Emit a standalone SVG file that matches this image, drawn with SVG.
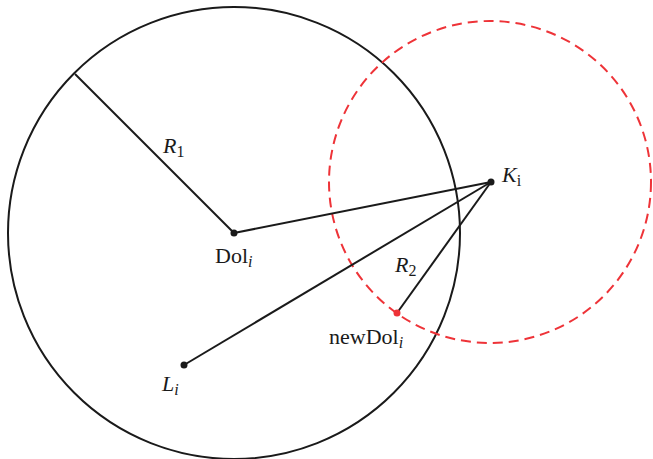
<svg xmlns="http://www.w3.org/2000/svg" width="653" height="459" viewBox="0 0 653 459">
<style>
.ln{stroke:#1a1a1a;stroke-width:2;fill:none}
.red{stroke:#ee3338;stroke-width:2;fill:none;stroke-dasharray:10 6}
text{font-family:"Liberation Serif","Times New Roman",serif;font-size:22px;fill:#1a1a1a}
.it{font-style:italic}
.sub{font-size:16px}
</style>
<rect width="653" height="459" fill="#fff"/>
<g id="circle1"><circle class="ln" cx="234" cy="233" r="226"/></g>
<g id="circle2"><circle class="red" cx="490" cy="182" r="161"/></g>
<g id="connectors">
<line class="ln" x1="75" y1="74" x2="234" y2="233"/>
<line class="ln" x1="234" y1="233" x2="491" y2="182"/>
<line class="ln" x1="184" y1="365" x2="491" y2="182"/>
<line class="ln" x1="397" y1="313" x2="491" y2="182"/>
</g>
<g id="Dol"><circle cx="234" cy="233" r="3.5" fill="#1a1a1a"/><text x="215" y="263">Dol<tspan class="it sub" dy="4">i</tspan></text></g>
<g id="K"><circle cx="491" cy="182" r="3.5" fill="#1a1a1a"/><text x="502" y="182"><tspan class="it">K</tspan><tspan class="sub" dy="4">i</tspan></text></g>
<g id="newDol"><circle cx="397" cy="313" r="3.5" fill="#ee3338"/><text x="329" y="344">newDol<tspan class="it sub" dy="4">i</tspan></text></g>
<g id="L"><circle cx="184" cy="365" r="3.5" fill="#1a1a1a"/><text x="162" y="391"><tspan class="it">L</tspan><tspan class="it sub" dy="4">i</tspan></text></g>
<g id="R1"><text x="163" y="153"><tspan class="it">R</tspan><tspan class="sub" dy="4">1</tspan></text></g>
<g id="R2"><text x="395" y="272"><tspan class="it">R</tspan><tspan class="sub" dy="4">2</tspan></text></g>
</svg>
